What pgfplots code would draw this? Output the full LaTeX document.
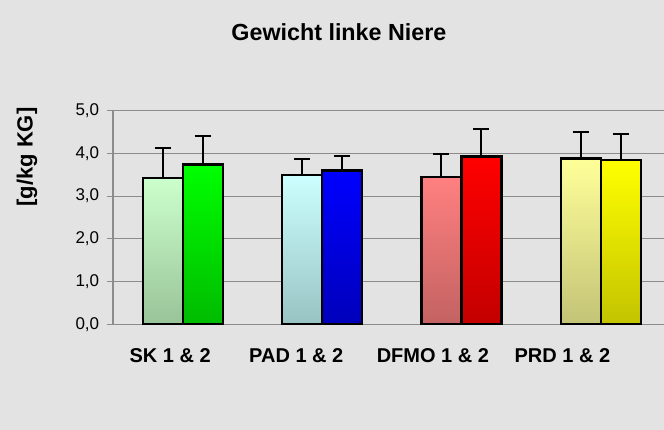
\documentclass[border=0pt]{standalone}
\usepackage{pgfplots}
\pgfplotsset{compat=1.18}
\usepackage{fontspec}
\setmainfont{Liberation Sans}
\definecolor{bg}{RGB}{227,227,227}
\definecolor{gridc}{RGB}{140,140,140}
\definecolor{skAt}{RGB}{204,255,204}\definecolor{skAb}{RGB}{153,195,153}
\definecolor{skBt}{RGB}{0,255,0}\definecolor{skBb}{RGB}{0,187,0}
\definecolor{paAt}{RGB}{204,255,255}\definecolor{paAb}{RGB}{153,195,195}
\definecolor{paBt}{RGB}{0,0,255}\definecolor{paBb}{RGB}{0,0,187}
\definecolor{dfAt}{RGB}{255,128,128}\definecolor{dfAb}{RGB}{195,98,98}
\definecolor{dfBt}{RGB}{255,0,0}\definecolor{dfBb}{RGB}{195,0,0}
\definecolor{prAt}{RGB}{255,255,153}\definecolor{prAb}{RGB}{195,195,119}
\definecolor{prBt}{RGB}{255,255,0}\definecolor{prBb}{RGB}{195,195,0}
\pgfplotsset{
  shadebar/.style={ybar, bar width=0.287, bar shift=0pt, draw=none},
  edgebar/.style={ybar, bar width=0.287, bar shift=0pt, draw=black, fill=none, line width=2.2pt,
    error bars/y dir=plus, error bars/y explicit,
    error bars/error bar style={black, line width=2pt},
    error bars/error mark options={black, line width=2pt, mark size=8pt, rotate=90}},
}
\begin{document}
\begin{tikzpicture}
\useasboundingbox (0,0) rectangle (664pt,430pt);
\fill[bg] (0,0) rectangle (664pt,430pt);
\begin{axis}[
  at={(113pt,105.7pt)}, anchor=south west,
  scale only axis, width=551pt, height=213.6pt,
  xmin=-0.5, xmax=3.453, ymin=0, ymax=5,
  axis x line*=bottom, axis y line*=left,
  axis line style={-, draw=gridc, line width=1.2pt},
  tick align=inside, major tick length=0pt,
  ytick={0,1,2,3,4,5},
  yticklabels={0{,}0,1{,}0,2{,}0,3{,}0,4{,}0,5{,}0},
  ymajorgrids, grid style={gridc, line width=1pt},
  ytick style={gridc, line width=1pt},
  extra y ticks={0,1,2,3,4,5},
  extra y tick labels={},
  extra y tick style={grid=none, tick align=outside, major tick length=6pt, ytick style={gridc, line width=1pt}},
  xtick={-0.09,0.815,1.795,2.724},
  xticklabels={SK 1 \& 2, PAD 1 \& 2, DFMO 1 \& 2, PRD 1 \& 2},
  x tick style={draw=none},
  xticklabel style={font=\bfseries\fontsize{20}{20}\selectfont, yshift=-21pt},
  yticklabel style={font=\fontsize{17}{17}\selectfont, anchor=east, xshift=-10.3pt},
  title={Gewicht linke Niere},
  title style={at={(axis description cs:0.410,1.338)}, anchor=center, font=\bfseries\fontsize{23.3}{23.3}\selectfont},
  ylabel={[g/kg KG]},
  ylabel style={at={(axis description cs:-0.156,0.783)}, anchor=center, font=\bfseries\fontsize{22}{22}\selectfont},
  clip=false,
]
% shaded fills
\addplot[shadebar, top color=skAt, bottom color=skAb] coordinates {(-0.1436,3.42)};
\addplot[shadebar, top color=skBt, bottom color=skBb] coordinates {(0.1436,3.74)};
\addplot[shadebar, top color=paAt, bottom color=paAb] coordinates {(0.8564,3.50)};
\addplot[shadebar, top color=paBt, bottom color=paBb] coordinates {(1.1436,3.60)};
\addplot[shadebar, top color=dfAt, bottom color=dfAb] coordinates {(1.8564,3.45)};
\addplot[shadebar, top color=dfBt, bottom color=dfBb] coordinates {(2.1436,3.93)};
\addplot[shadebar, top color=prAt, bottom color=prAb] coordinates {(2.8564,3.88)};
\addplot[shadebar, top color=prBt, bottom color=prBb] coordinates {(3.1436,3.84)};
% outlines and error bars
\addplot[edgebar] coordinates {
  (-0.1436,3.42) +- (0,0.70)
  (0.1436,3.74) +- (0,0.66)
  (0.8564,3.50) +- (0,0.38)
  (1.1436,3.60) +- (0,0.33)
  (1.8564,3.45) +- (0,0.53)
  (2.1436,3.93) +- (0,0.65)
  (2.8564,3.88) +- (0,0.61)
  (3.1436,3.84) +- (0,0.61)
};
\end{axis}
\end{tikzpicture}
\end{document}
